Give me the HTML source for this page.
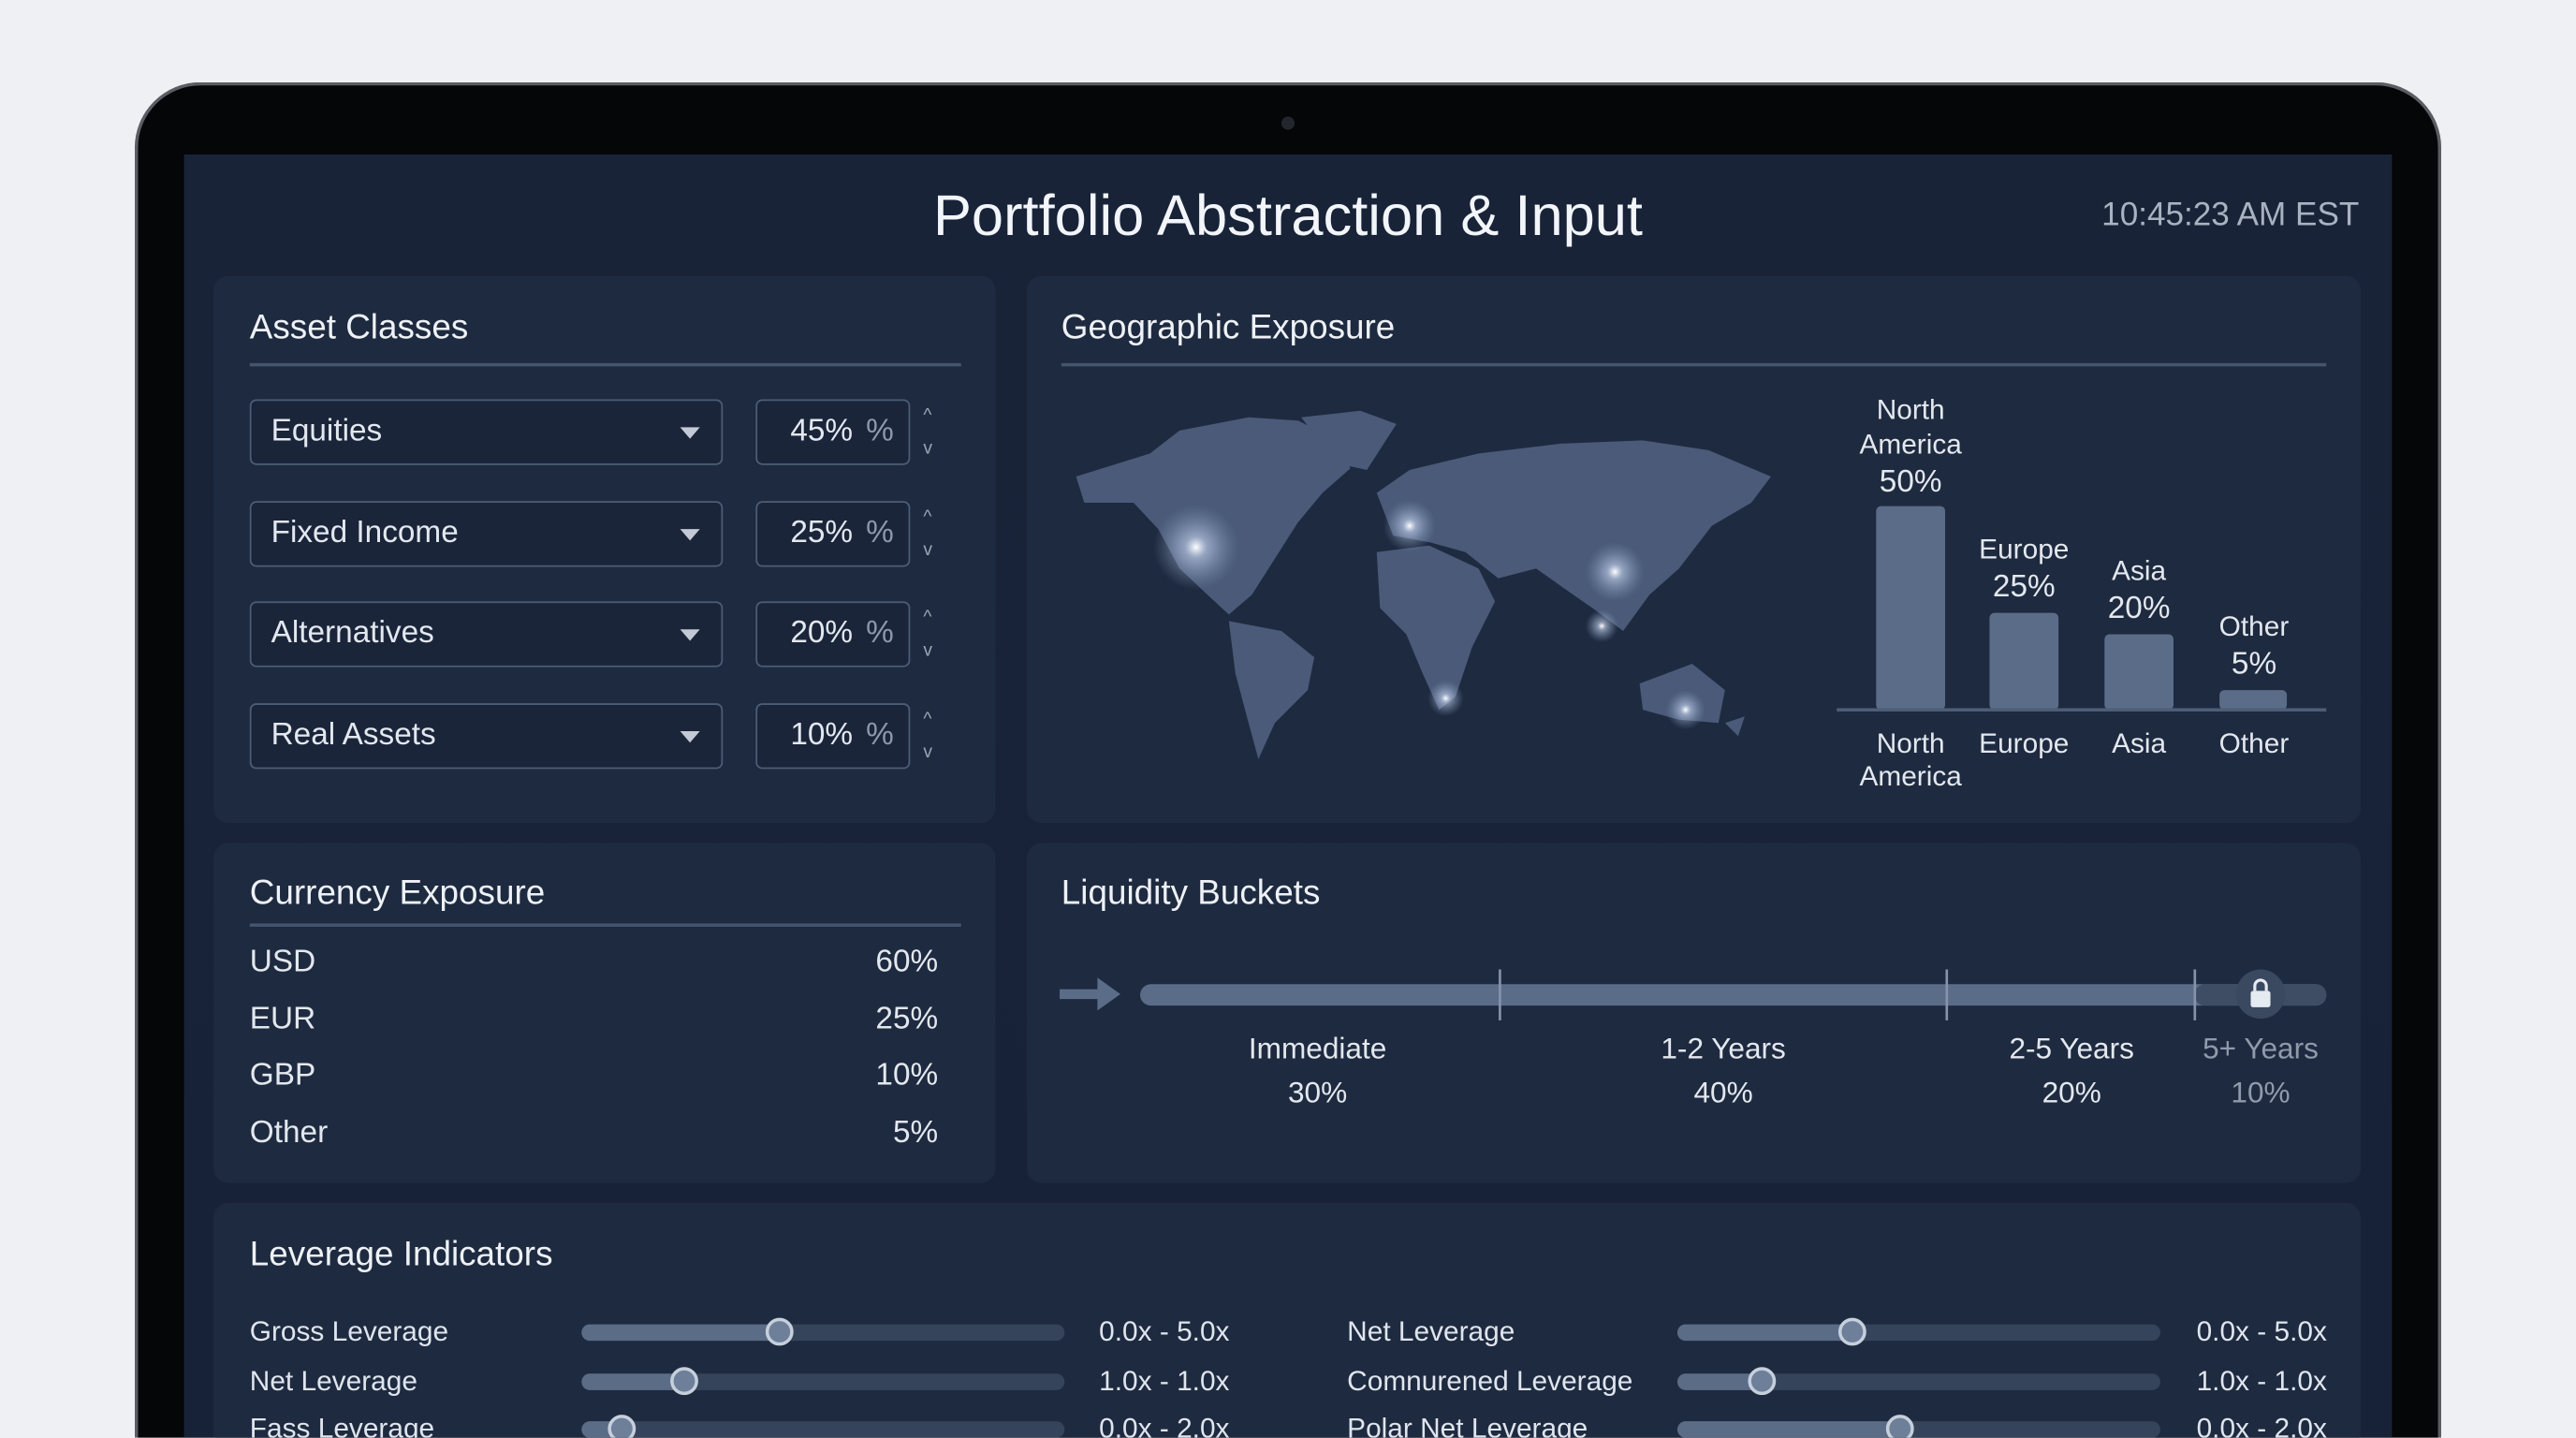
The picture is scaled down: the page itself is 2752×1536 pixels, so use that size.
<!DOCTYPE html>
<html><head><meta charset="utf-8">
<style>
html,body{margin:0;padding:0;width:2752px;height:1536px;overflow:hidden;background:#eef0f3;}
#w{position:absolute;left:0;top:0;width:1568px;height:875px;overflow:hidden;transform:scale(1.7551);transform-origin:0 0;font-family:"Liberation Sans",sans-serif;color:#e6ebf2;}
.a{position:absolute;}
.bez{left:82px;top:50px;width:1404px;height:825px;border-radius:40px 40px 0 0;background:#050608;border:2px solid #5a5d63;border-bottom:none;box-sizing:border-box;}
.scr{left:112px;top:94px;width:1344px;height:781px;background:linear-gradient(180deg,#182338 0%,#172238 100%);}
.p{position:absolute;background:#1e2a3f;border-radius:8px;box-shadow:0 0 0 1px rgba(80,100,130,.12);}
.t{position:absolute;font-size:21px;font-weight:500;color:#eef2f7;white-space:nowrap;}
.ln{position:absolute;height:2px;background:#45556e;}
.dd{position:absolute;left:152px;width:288px;height:40px;border:1.5px solid #4c5d77;border-radius:4px;box-sizing:border-box;background:#1a253a;font-size:19px;line-height:38px;padding-left:12px;color:#e3e8ef;}
.dd:after{content:"";position:absolute;right:13px;top:16px;border-left:6px solid transparent;border-right:6px solid transparent;border-top:7px solid #c3cad6;}
.in{position:absolute;left:460px;width:94px;height:40px;border:1.5px solid #4c5d77;border-radius:4px;box-sizing:border-box;background:#1a253a;font-size:19px;line-height:38px;text-align:right;padding-right:9px;color:#e3e8ef;}
.in span{color:#8d99ab;margin-left:8px;}
.sp{position:absolute;left:562px;font-size:11px;color:#9aa5b6;line-height:20px;}
.tx{position:absolute;white-space:nowrap;}
.trk{position:absolute;height:10px;border-radius:5px;background:#36445b;}
.fill{position:absolute;left:0;top:0;height:10px;border-radius:5px;background:#5b6c87;}
.th{position:absolute;width:17px;height:17px;border-radius:50%;background:#6e7f9a;border:2px solid #c6cfdc;box-sizing:border-box;top:-4px;}
</style></head><body>
<div id="w">
<div class="a bez"></div>
<div class="a" style="left:780px;top:71px;width:8px;height:8px;border-radius:50%;background:#23262c;"></div>
<div class="a scr"></div>
<div class="tx" style="left:0;width:1568px;text-align:center;top:112px;font-size:35px;color:#f2f5f9;">Portfolio Abstraction &amp; Input</div>
<div class="tx" style="right:132px;top:120px;font-size:20px;color:#a9b2c0;">10:45:23 AM EST</div>

<!-- Asset Classes -->
<div class="p" style="left:131px;top:169px;width:474px;height:331px;"></div>
<div class="t" style="left:152px;top:188px;">Asset Classes</div>
<div class="ln" style="left:152px;top:221px;width:433px;"></div>
<div class="dd" style="top:243px;">Equities</div><div class="in" style="top:243px;">45%<span>%</span></div><div class="sp" style="top:243px;">^<br>v</div>
<div class="dd" style="top:305px;">Fixed Income</div><div class="in" style="top:305px;">25%<span>%</span></div><div class="sp" style="top:305px;">^<br>v</div>
<div class="dd" style="top:366px;">Alternatives</div><div class="in" style="top:366px;">20%<span>%</span></div><div class="sp" style="top:366px;">^<br>v</div>
<div class="dd" style="top:428px;">Real Assets</div><div class="in" style="top:428px;">10%<span>%</span></div><div class="sp" style="top:428px;">^<br>v</div>

<!-- Geographic -->
<div class="p" style="left:626px;top:169px;width:810px;height:331px;"></div>
<div class="t" style="left:646px;top:188px;">Geographic Exposure</div>
<div class="ln" style="left:646px;top:221px;width:770px;"></div>
<svg class="a" style="left:0;top:0" width="1568" height="875">
<defs><radialGradient id="g"><stop offset="0" stop-color="#fff" stop-opacity="1"/><stop offset=".25" stop-color="#c8d6f0" stop-opacity=".6"/><stop offset="1" stop-color="#8aa0c8" stop-opacity="0"/></radialGradient></defs>
<g fill="#4a5a78">
<polygon points="655,290 700,276 718,262 760,254 790,256 815,268 822,285 805,300 790,318 776,340 762,362 748,374 735,362 718,346 705,322 690,306 660,306"/>
<polygon points="792,254 828,250 850,258 832,286 814,282"/>
<polygon points="748,378 780,384 800,400 796,420 776,440 766,462 760,440 752,410"/>
<polygon points="838,300 858,286 900,276 950,270 1000,268 1040,274 1078,290 1066,306 1042,320 1022,346 1004,362 988,384 972,372 952,358 935,346 912,352 892,336 870,330 848,326"/>
<polygon points="838,336 870,332 900,346 910,366 896,394 886,424 876,432 866,410 856,386 840,370"/>
<polygon points="998,416 1030,404 1050,420 1046,440 1022,438 1000,432"/>
<polygon points="1050,440 1062,436 1058,448"/>
</g>
<circle cx="728" cy="333" r="26" fill="url(#g)"/>
<circle cx="858" cy="320" r="16" fill="url(#g)"/>
<circle cx="983" cy="348" r="18" fill="url(#g)"/>
<circle cx="975" cy="381" r="10" fill="url(#g)"/>
<circle cx="880" cy="425" r="11" fill="url(#g)"/>
<circle cx="1026" cy="432" r="12" fill="url(#g)"/>
<g fill="#5b6c89">
<rect x="1142" y="308" width="42" height="124" rx="3"/>
<rect x="1211" y="373" width="42" height="59" rx="3"/>
<rect x="1281" y="386" width="42" height="46" rx="3"/>
<rect x="1351" y="420" width="41" height="12" rx="3"/>
</g>
<rect x="1118" y="431" width="298" height="2" fill="#4e5e78"/>
<g font-family="Liberation Sans, sans-serif" font-size="17" fill="#e3e8ef" text-anchor="middle">
<text x="1163" y="255">North</text><text x="1163" y="276">America</text><text x="1163" y="299" font-size="19">50%</text>
<text x="1232" y="340">Europe</text><text x="1232" y="363" font-size="19">25%</text>
<text x="1302" y="353">Asia</text><text x="1302" y="376" font-size="19">20%</text>
<text x="1372" y="387">Other</text><text x="1372" y="410" font-size="19">5%</text>
<text x="1163" y="458">North</text><text x="1163" y="478">America</text>
<text x="1232" y="458">Europe</text><text x="1302" y="458">Asia</text><text x="1372" y="458">Other</text>
</g>
</svg>

<!-- Currency -->
<div class="p" style="left:131px;top:514px;width:474px;height:205px;"></div>
<div class="t" style="left:152px;top:532px;">Currency Exposure</div>
<div class="ln" style="left:152px;top:562px;width:433px;"></div>
<div style="position:absolute;left:152px;width:419px;top:575px;font-size:19px;color:#e3e8ef;">
<div style="display:flex;justify-content:space-between;height:34.5px;"><span>USD</span><span>60%</span></div>
<div style="display:flex;justify-content:space-between;height:34.5px;"><span>EUR</span><span>25%</span></div>
<div style="display:flex;justify-content:space-between;height:34.5px;"><span>GBP</span><span>10%</span></div>
<div style="display:flex;justify-content:space-between;height:34.5px;"><span>Other</span><span>5%</span></div>
</div>

<!-- Liquidity -->
<div class="p" style="left:626px;top:514px;width:810px;height:205px;"></div>
<div class="t" style="left:646px;top:532px;">Liquidity Buckets</div>
<svg class="a" style="left:0;top:0" width="1568" height="875">
<polygon points="645,602 668,602 668,595 682,605 668,615 668,608 645,608" fill="#5b6c89"/>
<rect x="694" y="599" width="722" height="13" rx="6.5" fill="#5b6c89"/>
<rect x="1336" y="599" width="80" height="13" rx="6" fill="#3f4d64"/>
<g stroke="#8594ab" stroke-width="1.5"><line x1="913" y1="590" x2="913" y2="621"/><line x1="1185" y1="590" x2="1185" y2="621"/><line x1="1336" y1="590" x2="1336" y2="621"/></g>
<circle cx="1376" cy="605" r="15" fill="#3a4860"/>
<rect x="1370" y="603" width="12" height="10" rx="1.5" fill="#e6ebf2"/>
<path d="M1372.5 603 v-3 a3.5 3.5 0 0 1 7 0 v3" fill="none" stroke="#e6ebf2" stroke-width="1.8"/>
<g font-family="Liberation Sans, sans-serif" font-size="18" fill="#e3e8ef" text-anchor="middle">
<text x="802" y="644">Immediate</text><text x="802" y="671">30%</text>
<text x="1049" y="644">1-2 Years</text><text x="1049" y="671">40%</text>
<text x="1261" y="644">2-5 Years</text><text x="1261" y="671">20%</text>
<text x="1376" y="644" fill="#8f9aab">5+ Years</text><text x="1376" y="671" fill="#8f9aab">10%</text>
</g>
</svg>

<!-- Leverage -->
<div class="p" style="left:131px;top:733px;width:1305px;height:142px;border-radius:8px 8px 0 0;"></div>
<div class="t" style="left:152px;top:752px;">Leverage Indicators</div>
<div style="position:absolute;left:0;top:0;width:1568px;height:875px;overflow:hidden;font-size:17px;color:#dfe5ee;">
<div class="tx" style="left:152px;top:801px;">Gross Leverage</div>
<div class="tx" style="left:152px;top:831px;">Net Leverage</div>
<div class="tx" style="left:152px;top:860px;">Fass Leverage</div>
<div class="tx" style="left:669px;top:801px;">0.0x - 5.0x</div>
<div class="tx" style="left:669px;top:831px;">1.0x - 1.0x</div>
<div class="tx" style="left:669px;top:860px;">0.0x - 2.0x</div>
<div class="tx" style="left:820px;top:801px;">Net Leverage</div>
<div class="tx" style="left:820px;top:831px;">Comnurened Leverage</div>
<div class="tx" style="left:820px;top:860px;">Polar Net Leverage</div>
<div class="tx" style="left:1337px;top:801px;">0.0x - 5.0x</div>
<div class="tx" style="left:1337px;top:831px;">1.0x - 1.0x</div>
<div class="tx" style="left:1337px;top:860px;">0.0x - 2.0x</div>
<div class="trk" style="left:354px;top:806px;width:294px;"><div class="fill" style="width:121px"></div><div class="th" style="left:112px"></div></div>
<div class="trk" style="left:354px;top:836px;width:294px;"><div class="fill" style="width:63px"></div><div class="th" style="left:54px"></div></div>
<div class="trk" style="left:354px;top:865px;width:294px;"><div class="fill" style="width:25px"></div><div class="th" style="left:16px"></div></div>
<div class="trk" style="left:1021px;top:806px;width:294px;"><div class="fill" style="width:107px"></div><div class="th" style="left:98px"></div></div>
<div class="trk" style="left:1021px;top:836px;width:294px;"><div class="fill" style="width:52px"></div><div class="th" style="left:43px"></div></div>
<div class="trk" style="left:1021px;top:865px;width:294px;"><div class="fill" style="width:136px"></div><div class="th" style="left:127px"></div></div>
</div>
</div>
</body></html>
